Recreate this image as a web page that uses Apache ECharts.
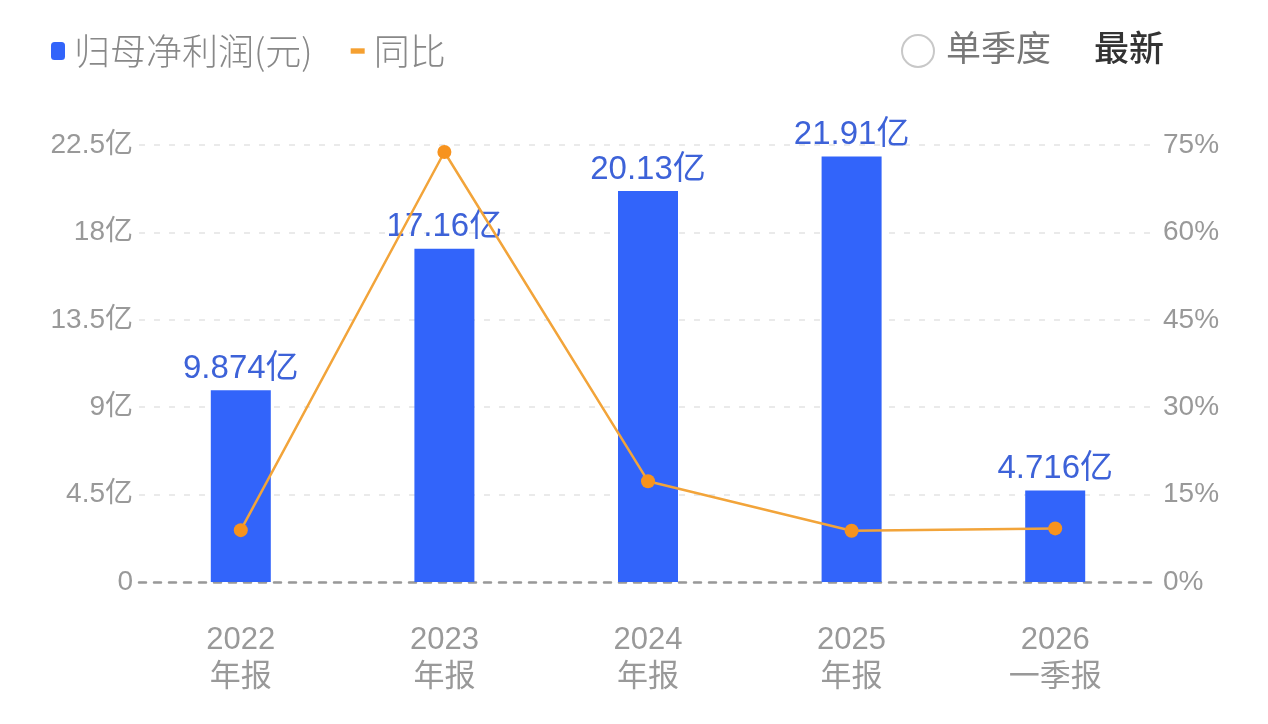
<!DOCTYPE html>
<html>
<head>
<meta charset="utf-8">
<script src="https://cdn.jsdelivr.net/npm/echarts@6/dist/echarts.min.js"></script>
<style>
html,body{margin:0;padding:0;background:#fff;}
#c{width:1268px;height:724px;}
</style>
</head>
<body>
<div id="c"></div>
<script>
const categories = ['2022\n年报', '2023\n年报', '2024\n年报', '2025\n年报', '2026\n一季报'];
const profitValues = [9.874, 17.16, 20.13, 21.91, 4.716];
const profitLabels = ['9.874亿', '17.16亿', '20.13亿', '21.91亿', '4.716亿'];
const yoyValues = [8.9, 73.8, 17.3, 8.8, 9.2];
const leftTicks = { min: 0, max: 22.5, interval: 4.5 };
const rightTicks = { min: 0, max: 75, interval: 15 };

const FONT = "'Liberation Sans', 'Noto Sans CJK SC', sans-serif";
const chart = echarts.init(document.getElementById('c'));
chart.setOption({
  backgroundColor: '#fff',
  animation: false,
  textStyle: { fontFamily: FONT },
  legend: {
    left: 46, top: 28,
    itemGap: 38,
    itemWidth: 14, itemHeight: 18,
    textStyle: { color: '#888', fontSize: 36, fontFamily: "'Noto Sans CJK SC', sans-serif", fontWeight: 300, padding: [0, 0, 0, 4] },
    data: [
      { name: '归母净利润(元)', icon: 'roundRect', itemStyle: { color: '#3264fa' } },
      { name: '同比', icon: 'path://M0,0 L13,0 L13,5 L0,5 Z', itemStyle: { color: '#f5a030' }, itemWidth: 14, itemHeight: 5 }
    ]
  },
  graphic: [
    { type: 'circle', shape: { cx: 918, cy: 51, r: 16 }, style: { fill: '#fff', stroke: '#c8c8c8', lineWidth: 2 } },
    { type: 'text', left: 946, top: 30, style: { text: '单季度', fill: '#777', font: "35px 'Noto Sans CJK SC'" } },
    { type: 'text', left: 1094, top: 30, style: { text: '最新', fill: '#333', font: "500 35px 'Noto Sans CJK SC'" } }
  ],
  grid: { left: 139, right: 111, top: 145, bottom: 142, containLabel: false },
  xAxis: {
    type: 'category',
    data: categories,
    axisLine: { show: true, lineStyle: { color: '#999', width: 2.5, type: [7, 8] } },
    axisTick: { show: false },
    axisLabel: { color: '#999', fontSize: 31, lineHeight: 37, margin: 40, fontFamily: FONT }
  },
  yAxis: [
    {
      type: 'value', min: leftTicks.min, max: leftTicks.max, interval: leftTicks.interval,
      axisLine: { show: false }, axisTick: { show: false },
      axisLabel: { color: '#999', fontSize: 28, margin: 6, fontFamily: FONT,
        formatter: v => v === 0 ? '0' : (+v.toFixed(1)) + '亿' },
      splitLine: { show: true, lineStyle: { color: '#e3e3e3', width: 1.5, type: [6, 9] } }
    },
    {
      type: 'value', min: rightTicks.min, max: rightTicks.max, interval: rightTicks.interval,
      axisLine: { show: false }, axisTick: { show: false },
      axisLabel: { color: '#999', fontSize: 28, margin: 6, fontFamily: FONT, formatter: '{value}%' },
      splitLine: { show: false }
    }
  ],
  series: [
    {
      name: '归母净利润(元)', type: 'bar', data: profitValues, barWidth: 60, z: 2,
      itemStyle: { color: '#3264fa' },
      label: { show: true, position: 'top', distance: 5, color: '#3d62d8', fontSize: 33, fontFamily: FONT,
        formatter: p => profitLabels[p.dataIndex] }
    },
    {
      name: '同比', type: 'line', yAxisIndex: 1, data: yoyValues, z: 5,
      symbol: 'circle', symbolSize: 14,
      lineStyle: { color: '#f2a43a', width: 2.5 },
      itemStyle: { color: '#f7931e' }
    }
  ]
});
</script>
</body>
</html>
